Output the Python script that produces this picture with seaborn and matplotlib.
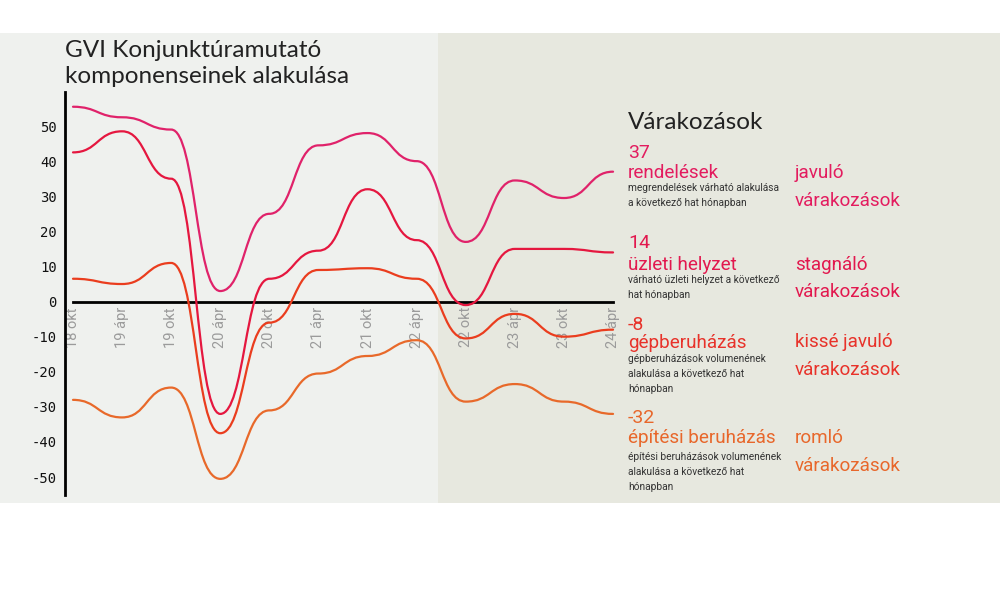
import numpy as np
import pandas as pd
import matplotlib
matplotlib.use("Agg")
import matplotlib.pyplot as plt
import seaborn as sns
from matplotlib.path import Path
from matplotlib.patches import PathPatch, Rectangle

# ---- data (semiannual survey waves) ----
periods = ["18 okt", "19 ápr", "19 okt", "20 ápr", "20 okt", "21 ápr",
           "21 okt", "22 ápr", "22 okt", "23 ápr", "23 okt", "24 ápr"]
rendelesek = [55.5, 52.5, 49, 3, 25, 44.5, 48, 40, 17, 34.5, 29.5, 37]
uzleti_helyzet = [42.5, 48.5, 35, -32, 6.5, 14.5, 32, 17.5, -1, 15, 15, 14]
gepberuhazas = [6.5, 5, 11, -37.5, -6, 9, 9.5, 6.5, -10.5, -3.5, -10, -8]
epitesi_beruhazas = [-28, -33, -24.5, -50.5, -31, -20.5, -15.5, -11, -28.5, -23.5, -28.5, -32]
yticks = [-50, -40, -30, -20, -10, 0, 10, 20, 30, 40, 50]

series_names = ["rendelések", "üzleti helyzet", "gépberuházás", "építési beruházás"]
series_values = [rendelesek, uzleti_helyzet, gepberuhazas, epitesi_beruhazas]
line_colors = ["#e0226a", "#e5173f", "#ea3d1e", "#e8692a"]
text_colors = ["#e31c5f", "#e2184e", "#e8322a", "#e8672b"]
last_labels = ["37", "14", "-8", "-32"]
descriptions = [
    ["megrendelések várható alakulása", "a következő hat hónapban"],
    ["várható üzleti helyzet a következő", "hat hónapban"],
    ["gépberuházások volumenének", "alakulása a következő hat", "hónapban"],
    ["építési beruházások volumenének", "alakulása a következő hat", "hónapban"],
]
verdicts = [["javuló", "várakozások"], ["stagnáló", "várakozások"],
            ["kissé javuló", "várakozások"], ["romló", "várakozások"]]

df = pd.DataFrame({"period": periods, **dict(zip(series_names, series_values))})

sns.set_theme(style="white")
NARROW = ["Roboto", "DejaVu Sans"]
plt.rcParams["font.family"] = ["Lato", "DejaVu Sans"]

fig = plt.figure(figsize=(10, 6), dpi=100)
fig.patch.set_facecolor("white")
fig.patches.extend([
    Rectangle((0, 1 - 503 / 600), 0.438, 470 / 600, transform=fig.transFigure,
              facecolor="#eff1ee", edgecolor="none", zorder=-10),
    Rectangle((0.438, 1 - 503 / 600), 0.562, 470 / 600, transform=fig.transFigure,
              facecolor="#e7e8df", edgecolor="none", zorder=-10),
])

ax = fig.add_axes([0.065, 1 - 495 / 600, 0.5505, 403 / 600])
ax.set_facecolor("none")

xs = np.arange(len(periods))


def bump_path(x, y):
    verts = [(x[0], y[0])]
    codes = [Path.MOVETO]
    for i in range(len(x) - 1):
        xm = (x[i] + x[i + 1]) / 2
        verts += [(xm, y[i]), (xm, y[i + 1]), (x[i + 1], y[i + 1])]
        codes += [Path.CURVE4] * 3
    return Path(verts, codes)


for name, col in zip(series_names[::-1], line_colors[::-1]):
    ax.add_patch(PathPatch(bump_path(xs, df[name].values), facecolor="none",
                           edgecolor=col, lw=1.6, capstyle="round", zorder=3))

ax.set_xlim(-0.163, 11.05)
ax.set_ylim(-55.1, 59.7)

sns.despine(ax=ax, top=True, right=True, left=False, bottom=False)
ax.spines["left"].set_color("black")
ax.spines["left"].set_linewidth(2)
ax.spines["bottom"].set_position(("data", 0))
ax.spines["bottom"].set_bounds(xs[0], xs[-1])
ax.spines["bottom"].set_color("black")
ax.spines["bottom"].set_linewidth(2)

ax.set_yticks(yticks)
ax.set_yticklabels([str(v) for v in yticks], family="DejaVu Sans Mono",
                   fontsize=10, color="#111111")
ax.tick_params(axis="y", length=0, pad=6)

ax.set_xticks(xs)
ax.set_xticklabels(periods, rotation=90, color="#9b9b9b", fontsize=10.5,
                   family=NARROW, va="top")
ax.set_xticks([xs[0], xs[-1]], minor=True)
ax.tick_params(axis="x", which="major", length=0, pad=4)
ax.tick_params(axis="x", which="minor", length=4, width=1.5, color="black",
               direction="out")
ax.grid(False)


def T(x, y, s, **kw):
    fig.text(x / 1000, 1 - y / 600, s, va="baseline", **kw)


T(65, 57, "GVI Konjunktúramutató", size=17.5, color="#222222")
T(65, 83, "komponenseinek alakulása", size=17.5, color="#222222")
T(628, 129, "Várakozások", size=17.5, color="#222222")

num_base = [158, 248, 330, 423]
name_base = [178, 270, 348, 443]
desc_base = [191, 283, 362, 460]
verd_base = [[178, 206], [270, 297], [347, 375], [443, 471]]

for i in range(4):
    T(628, num_base[i], last_labels[i], size=14, color=text_colors[i], family=NARROW)
    T(628, name_base[i], series_names[i], size=13.6, color=text_colors[i], family=NARROW)
    for j, line in enumerate(descriptions[i]):
        T(628, desc_base[i] + 15 * j, line, size=7.3, color="#333333", family=NARROW)
    for j, line in enumerate(verdicts[i]):
        T(795, verd_base[i][j], line, size=13.6, color=text_colors[i], family=NARROW)

fig.savefig("out.png", dpi=100)
